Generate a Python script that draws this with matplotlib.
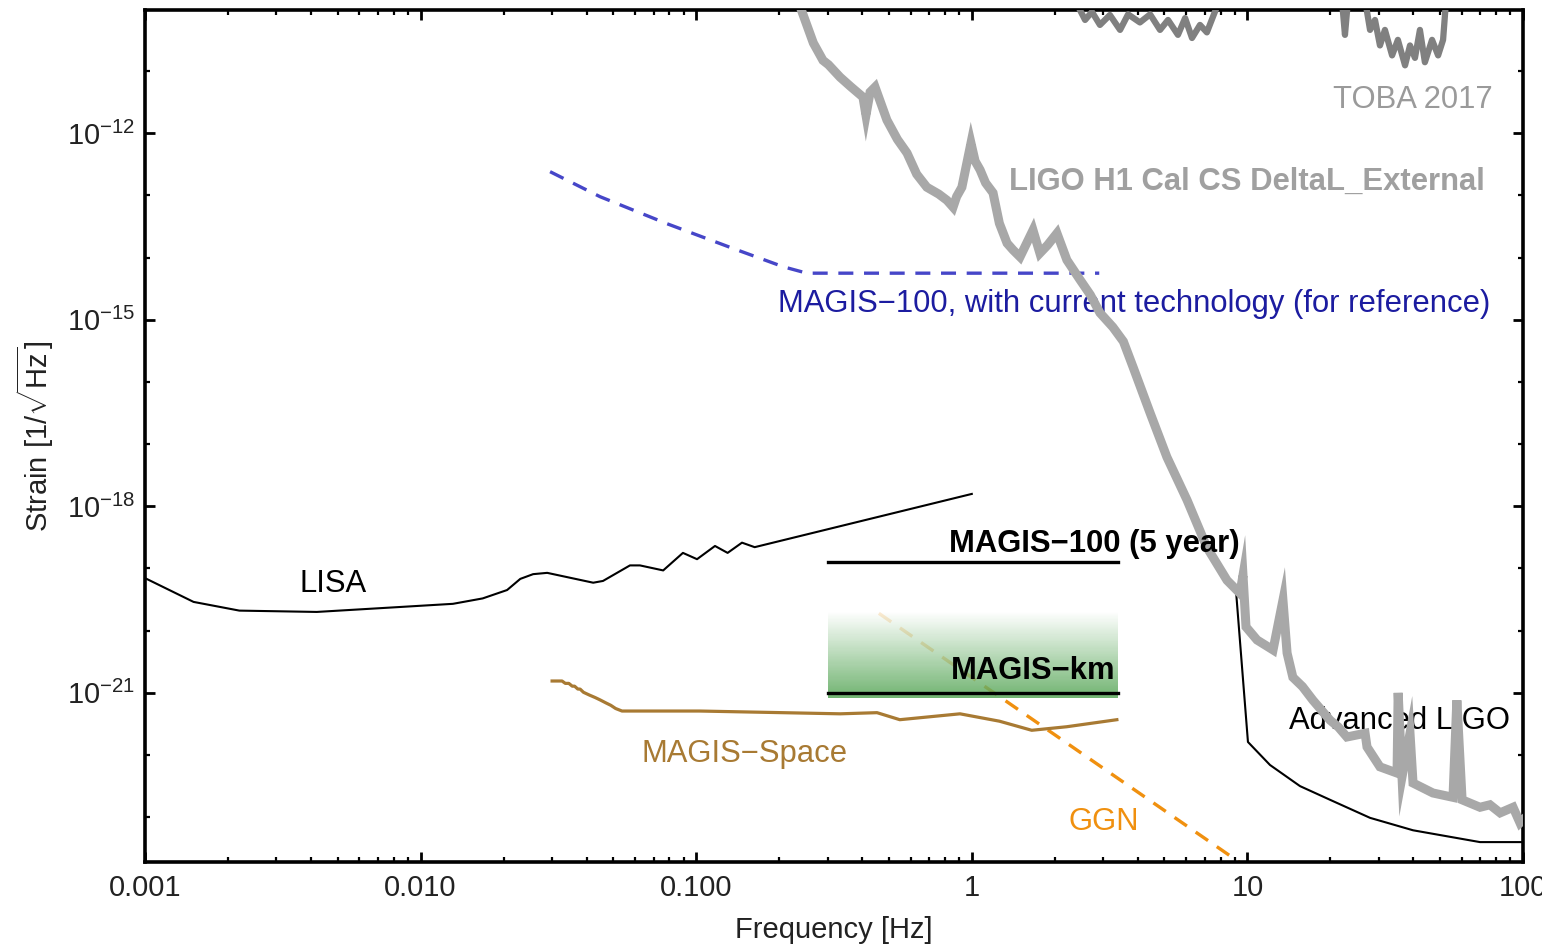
import matplotlib
matplotlib.use("Agg")
import matplotlib.pyplot as plt
import numpy as np
from matplotlib.ticker import FixedLocator, FixedFormatter, LogLocator, NullFormatter, LogFormatterSciNotation

plt.rcParams["font.family"] = ["Liberation Sans", "DejaVu Sans"]
plt.rcParams["mathtext.fontset"] = "custom"
plt.rcParams["mathtext.rm"] = "Liberation Sans"
plt.rcParams["mathtext.it"] = "Liberation Sans:italic"
plt.rcParams["mathtext.bf"] = "Liberation Sans:bold"

# ---- data ----
lisa_f = [0.001, 0.0015, 0.0022, 0.0042, 0.0084, 0.0131, 0.0168, 0.0206, 0.023,
          0.0256, 0.0288, 0.0423, 0.0459, 0.0575, 0.0625, 0.0759, 0.0895, 0.1007,
          0.117, 0.130, 0.1466, 0.163, 1.0]
lisa_h = [7.0e-20, 2.9e-20, 2.1e-20, 2.0e-20, 2.4e-20, 2.7e-20, 3.3e-20, 4.5e-20,
          6.8e-20, 8.1e-20, 8.5e-20, 5.9e-20, 6.3e-20, 1.12e-19, 1.12e-19, 9.3e-20,
          1.78e-19, 1.41e-19, 2.3e-19, 1.78e-19, 2.6e-19, 2.2e-19, 1.58e-18]

magis100_f = [0.3, 3.4]
magis100_h = [1.26e-19, 1.26e-19]

magiskm_f = [0.3, 3.4]
magiskm_h = [1.0e-21, 1.0e-21]
magiskm_band = [8.3e-22, 2.0e-20]   # green shaded range

magis_now_f = [0.0295, 0.0448, 0.0783, 0.136, 0.207, 0.252, 2.9]
magis_now_h = [2.4e-13, 9.5e-14, 3.5e-14, 1.4e-14, 7.1e-15, 5.6e-15, 5.6e-15]

space_f = [0.030, 0.0326, 0.0335, 0.0345, 0.0355, 0.0362, 0.0372, 0.0379, 0.039,
           0.041, 0.043, 0.0448, 0.047, 0.049, 0.051, 0.0538,
           0.103, 0.333, 0.453, 0.548, 0.906, 1.26, 1.65, 2.21, 3.36]
space_h = [1.55e-21, 1.55e-21, 1.42e-21, 1.42e-21, 1.28e-21, 1.28e-21, 1.15e-21,
           1.15e-21, 1.02e-21, 9.2e-22, 8.4e-22, 7.7e-22, 6.9e-22, 6.3e-22, 5.6e-22,
           5.1e-22, 5.1e-22, 4.6e-22, 4.8e-22, 3.7e-22, 4.6e-22, 3.5e-22,
           2.5e-22, 2.85e-22, 3.7e-22]

ggn_f = [0.46, 9.5]
ggn_h = [1.9e-20, 1.8e-24]

aligo_logf = [0.959, 1.002, 1.082, 1.191, 1.300, 1.445, 1.601, 1.844, 2.0]
aligo_logh = [-19.38, -21.79, -22.16, -22.50, -22.72, -23.01, -23.21, -23.40, -23.40]

ligo_logf = [-0.62, -0.575, -0.540, -0.52, -0.478, -0.44, -0.395, -0.384, -0.369,
             -0.351, -0.308, -0.27, -0.235, -0.20, -0.163, -0.12, -0.090, -0.068,
             -0.055, -0.036, -0.003, 0.012, 0.030, 0.05, 0.077, 0.10, 0.128, 0.15,
             0.175, 0.222, 0.247, 0.275, 0.309, 0.345, 0.393, 0.43, 0.465, 0.512,
             0.55, 0.585, 0.647, 0.708, 0.781, 0.853, 0.926, 0.973, 0.984, 0.995,
             1.035, 1.093, 1.129, 1.144, 1.165, 1.20, 1.238, 1.300, 1.33, 1.361,
             1.427, 1.434, 1.481, 1.543, 1.547, 1.561, 1.590, 1.601, 1.673, 1.746,
             1.760, 1.779, 1.844, 1.88, 1.917, 1.964, 1.989, 2.01]
ligo_logh = [-10.00, -10.55, -10.83, -10.90, -11.10, -11.25, -11.42, -11.71, -11.34,
             -11.26, -11.79, -12.10, -12.32, -12.66, -12.87, -12.98, -13.08, -13.19,
             -13.02, -12.87, -12.16, -12.45, -12.59, -12.80, -12.96, -13.45, -13.77,
             -13.88, -13.99, -13.56, -13.93, -13.80, -13.61, -14.04, -14.36, -14.60,
             -14.89, -15.12, -15.35, -15.76, -16.50, -17.21, -17.90, -18.66, -19.19,
             -19.40, -19.11, -19.94, -20.15, -20.31, -19.51, -20.36, -20.75, -20.90,
             -21.12, -21.44, -21.55, -21.71, -21.65, -21.87, -22.19, -22.29, -21.00,
             -22.35, -21.65, -22.45, -22.61, -22.68, -21.12, -22.72, -22.84, -22.80,
             -22.93, -22.84, -23.09, -23.00]

toba_logf = [0.30, 0.374, 0.411, 0.436, 0.465, 0.501, 0.538, 0.567, 0.610, 0.647,
             0.683, 0.712, 0.748, 0.774, 0.799, 0.828, 0.853, 0.882, 0.901, 1.343,
             1.354, 1.365, 1.427, 1.445, 1.463, 1.481, 1.499, 1.525, 1.546, 1.572,
             1.590, 1.608, 1.626, 1.644, 1.670, 1.692, 1.710, 1.721, 1.80]
toba_logh = [-9.5, -9.86, -10.18, -10.05, -10.26, -10.10, -10.34, -10.09, -10.22,
             -10.09, -10.34, -10.18, -10.42, -10.15, -10.47, -10.26, -10.38, -10.05,
             -9.86, -9.86, -10.42, -9.86, -9.86, -10.34, -10.18, -10.59, -10.34,
             -10.75, -10.50, -10.91, -10.59, -10.79, -10.34, -10.86, -10.50, -10.75,
             -10.50, -9.86, -9.5]

xticks = [0.001, 0.01, 0.1, 1, 10, 100]
xtick_labels = ["0.001", "0.010", "0.100", "1", "10", "100"]
yticks_major = [1e-12, 1e-15, 1e-18, 1e-21]
yticks_minor = [1e-11, 1e-13, 1e-14, 1e-16, 1e-17, 1e-19, 1e-20, 1e-22, 1e-23]

# ---- figure ----
fig = plt.figure(figsize=(15.42, 9.48), dpi=100)
ax = fig.add_axes([145 / 1542, 1 - 862 / 948, 1378 / 1542, 852 / 948])
ax.set_xscale("log")
ax.set_yscale("log")
ax.set_xlim(1e-3, 1e2)
ax.set_ylim(10 ** -23.72, 10 ** -10.02)

# GGN (under the green band)
ax.plot(ggn_f, ggn_h, color="#f0900f", lw=2.4, ls=(0, (4.5, 3.2)), zorder=1)

# green gradient band for MAGIS-km
green = np.array([0.32, 0.64, 0.32])
lo, hi = np.log10(magiskm_band[0]), np.log10(magiskm_band[1])
edges = np.logspace(lo, hi, 81)
for i in range(80):
    t = (i + 0.5) / 80
    w = (1 - t) ** 1.0
    col = tuple(1 - w * (1 - green))
    ax.fill_between(magiskm_f, edges[i], edges[i + 1], color=col,
                    alpha=0.82, lw=0, zorder=2)

ax.plot(lisa_f, lisa_h, color="black", lw=1.5, zorder=3)
ax.plot(magis100_f, magis100_h, color="black", lw=2.4, zorder=3)
ax.plot(magiskm_f, magiskm_h, color="black", lw=2.4, zorder=3)
ax.plot(magis_now_f, magis_now_h, color="#4646c8", lw=2.4, ls=(0, (4.5, 3.2)), zorder=3)
ax.plot(space_f, space_h, color="#a87a33", lw=2.3, zorder=3)
ax.plot(10 ** np.array(aligo_logf), 10 ** np.array(aligo_logh), color="black", lw=1.5, zorder=3)
ax.plot(10 ** np.array(toba_logf), 10 ** np.array(toba_logh), color="#808080", lw=4.5, zorder=3)
ax.plot(10 ** np.array(ligo_logf), 10 ** np.array(ligo_logh), color="#a8a8a8", lw=6.5,
        solid_joinstyle="miter", zorder=5)

# labels
fs = 21
tfs = 22.3
tr = ax.transAxes
ax.text(0.978, 0.885, "TOBA 2017", transform=tr, ha="right", va="baseline",
        fontsize=tfs, color="#9a9a9a", zorder=4)
ax.text(0.9724, 0.7887, "LIGO H1 Cal CS DeltaL_External", transform=tr, ha="right",
        va="baseline", fontsize=tfs, color="#a0a0a0", fontweight="bold", zorder=4)
ax.text(0.976, 0.6455, "MAGIS\u2212100, with current technology (for reference)",
        transform=tr, ha="right", va="baseline", fontsize=tfs, color="#1c1ca0", zorder=4)
ax.text(0.7946, 0.3638, "MAGIS\u2212100 (5 year)", transform=tr, ha="right",
        va="baseline", fontsize=tfs, fontweight="bold", color="black", zorder=6)
ax.text(0.704, 0.2148, "MAGIS\u2212km", transform=tr, ha="right", va="baseline",
        fontsize=tfs, fontweight="bold", color="black", zorder=6)
ax.text(0.1364, 0.3169, "LISA", transform=tr, ha="center", va="baseline",
        fontsize=tfs, color="black", zorder=4)
ax.text(0.4354, 0.1174, "MAGIS\u2212Space", transform=tr, ha="center", va="baseline",
        fontsize=tfs, color="#a87a33", zorder=4)
ax.text(0.696, 0.0376, "GGN", transform=tr, ha="center", va="baseline",
        fontsize=tfs, color="#f0900f", zorder=4)
ax.text(0.9107, 0.156, "Advanced LIGO", transform=tr, ha="center", va="baseline",
        fontsize=tfs, color="black", zorder=4)

# axes styling
for s in ax.spines.values():
    s.set_linewidth(2.6)
ax.xaxis.set_major_locator(FixedLocator(xticks))
ax.xaxis.set_major_formatter(FixedFormatter(xtick_labels))
ax.xaxis.set_minor_locator(LogLocator(base=10, subs=np.arange(2, 10), numticks=20))
ax.xaxis.set_minor_formatter(NullFormatter())
ax.yaxis.set_major_locator(FixedLocator(yticks_major))
ax.yaxis.set_major_formatter(LogFormatterSciNotation())
ax.yaxis.set_minor_locator(FixedLocator(yticks_minor))
ax.yaxis.set_minor_formatter(NullFormatter())
ax.tick_params(which="both", direction="in", top=True, right=True, colors="black",
               labelcolor="#222222", labelsize=fs)
ax.tick_params(which="major", length=7.5, width=2)
ax.tick_params(which="minor", length=3.5, width=1.6)
ax.tick_params(axis="x", which="major", pad=9)
ax.tick_params(axis="y", which="major", pad=7)

ax.set_xlabel("Frequency [Hz]", fontsize=fs, color="#222222", labelpad=10)
ax.set_ylabel(r"Strain [1/$\sqrt{\mathrm{Hz}}$]", fontsize=fs, color="#222222", labelpad=8)

fig.savefig("out.png", dpi=100)
